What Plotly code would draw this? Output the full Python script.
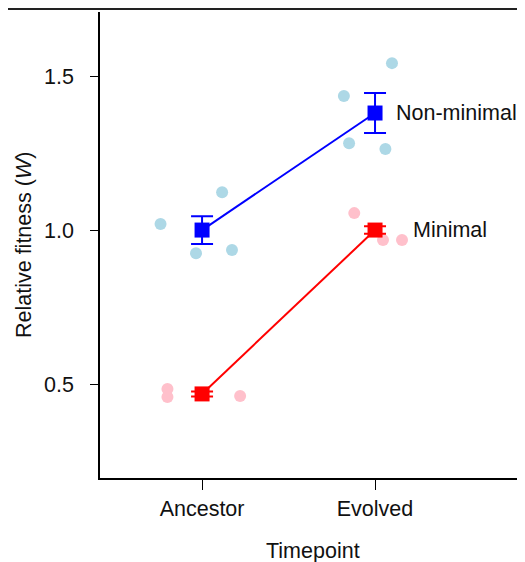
import plotly.graph_objects as go

categories = ["Ancestor", "Evolved"]

# Non-minimal
nonmin_mean = [1.00, 1.38]
nonmin_err = [0.045, 0.065]
nonmin_pts_x = [-0.24, 0.116, -0.035, 0.173, 1.098, 0.82, 0.85, 1.06]
nonmin_pts_y = [1.02, 1.123, 0.925, 0.935, 1.542, 1.435, 1.282, 1.263]

# Minimal
min_mean = [0.468, 1.00]
min_err = [0.008, 0.012]
min_pts_x = [-0.2, -0.2, 0.22, 0.88, 1.046, 1.156]
min_pts_y = [0.484, 0.458, 0.461, 1.055, 0.968, 0.968]

cat_x = [0, 1]
font = "Liberation Sans, Arial, sans-serif"

fig = go.Figure()
fig.add_trace(go.Scatter(x=nonmin_pts_x, y=nonmin_pts_y, mode="markers",
                         marker=dict(size=12, color="#add8e6"), showlegend=False))
fig.add_trace(go.Scatter(x=min_pts_x, y=min_pts_y, mode="markers",
                         marker=dict(size=12, color="#ffc0cb"), showlegend=False))
fig.add_trace(go.Scatter(x=cat_x, y=nonmin_mean, mode="lines+markers",
                         line=dict(color="blue", width=2),
                         marker=dict(symbol="square", size=15, color="blue"),
                         error_y=dict(type="data", array=nonmin_err, color="blue", thickness=2, width=11),
                         showlegend=False))
fig.add_trace(go.Scatter(x=cat_x, y=min_mean, mode="lines+markers",
                         line=dict(color="red", width=2),
                         marker=dict(symbol="square", size=15, color="red"),
                         error_y=dict(type="data", array=min_err, color="red", thickness=2, width=11),
                         showlegend=False))

fig.add_annotation(x=1, y=nonmin_mean[1], text="Non-minimal", showarrow=False,
                   xanchor="left", xshift=19, font=dict(size=21.5, color="#111"))
fig.add_annotation(x=1, y=min_mean[1], text="Minimal", showarrow=False,
                   xanchor="left", xshift=36, font=dict(size=21.5, color="#111"))

# axis titles
fig.add_annotation(xref="paper", yref="paper", x=0.5, y=0, yshift=-73, yanchor="middle",
                   text="Timepoint", showarrow=False, font=dict(size=21.5, color="#111"))
fig.add_annotation(xref="paper", yref="paper", x=0, y=0.5, xshift=-76, xanchor="center",
                   text="Relative fitness (<i>W</i>)", textangle=-90, showarrow=False,
                   font=dict(size=21.5, color="#111"))

# dark top border of the figure
fig.add_shape(type="line", xref="paper", yref="paper", x0=-92 / 425, x1=1,
              y0=1 + 3 / 466, y1=1 + 3 / 466, layer="above",
              line=dict(color="#222222", width=2))

fig.update_layout(
    width=517, height=554,
    margin=dict(l=92, r=0, t=4, b=84, autoexpand=False),
    plot_bgcolor="white", paper_bgcolor="white",
    font=dict(family=font, size=21, color="#111"),
    xaxis=dict(range=[-0.59, 1.867], tickvals=cat_x, ticktext=categories, automargin=False,
               showline=True, linecolor="black", linewidth=1.5, showgrid=False, zeroline=False,
               ticks="outside", ticklen=10, tickcolor="black", tickfont=dict(size=21.5)),
    yaxis=dict(range=[0.195, 1.708], tickvals=[0.5, 1.0, 1.5], ticktext=["0.5", "1.0", "1.5"],
               automargin=False, ticklabelstandoff=12,
               showline=True, linecolor="black", linewidth=1.5, showgrid=False, zeroline=False,
               ticks="outside", ticklen=8, tickcolor="black", tickfont=dict(size=21.5)),
)

fig.write_html("out.html")
